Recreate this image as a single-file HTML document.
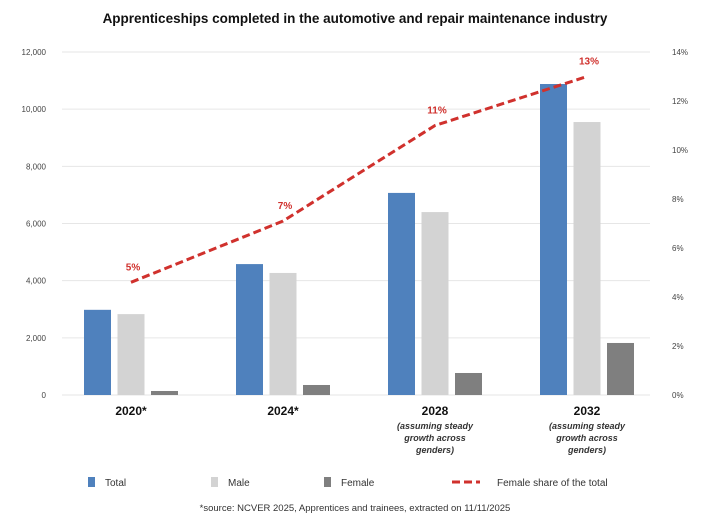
<!DOCTYPE html>
<html><head><meta charset="utf-8"><style>
body{margin:0;background:#fff;font-family:"Liberation Sans",sans-serif}
svg text{font-family:"Liberation Sans",sans-serif}
</style></head><body>
<svg id="c" width="709" height="515" xmlns="http://www.w3.org/2000/svg">
<text x="355" y="23" text-anchor="middle" font-size="13.5" font-weight="bold" fill="#111">Apprenticeships completed in the automotive and repair maintenance industry</text>
<g id="grid"></g><g id="bars"></g><g id="line"></g><g id="axes"></g>
<g font-size="10" fill="#333">
<rect x="88" y="477" width="7" height="10" fill="#4f81bd"/>
<text x="105" y="486">Total</text>
<rect x="211" y="477" width="7" height="10" fill="#d3d3d3"/>
<text x="228" y="486">Male</text>
<rect x="324" y="477" width="7" height="10" fill="#7f7f7f"/>
<text x="341" y="486">Female</text>
<line x1="452" y1="482" x2="480" y2="482" stroke="#d0312d" stroke-width="3" stroke-dasharray="8,4"/>
<text x="497" y="486">Female share of the total</text>
</g>
<text x="355" y="511" text-anchor="middle" font-size="9.5" fill="#333">*source: NCVER 2025, Apprentices and trainees, extracted on 11/11/2025</text>
</svg>
<script>
const categories=["2020*","2024*","2028","2032"];
const subLabels=[[],[],["(assuming steady","growth across","genders)"],["(assuming steady","growth across","genders)"]];
const total=[2980,4580,7070,10880];
const male=[2830,4270,6400,9550];
const female=[140,350,770,1820];
const share=[4.6,7.1,11.0,13.0];
const shareLabels=["5%","7%","11%","13%"];
const leftTicks=[0,2000,4000,6000,8000,10000,12000];
const rightTicks=[0,2,4,6,8,10,12,14];
const NS="http://www.w3.org/2000/svg";
const x0=55,step=152,yb=395,yt=52;
const y=v=>yb-(v/12000)*(yb-yt);
const y2=v=>yb-(v/14)*(yb-yt);
const cx=i=>x0+step*(i+0.5);
function mk(p,t,a){const e=document.createElementNS(NS,t);for(const k in a)e.setAttribute(k,a[k]);document.getElementById(p).appendChild(e);return e;}
leftTicks.forEach(v=>{
 const l=mk('grid','line',{x1:62,x2:650,y1:y(v),y2:y(v),stroke:'#e6e6e6'});
 
 
 const t=mk('axes','text',{x:46,y:y(v)+3,'text-anchor':'end','font-size':8,fill:'#444'});
 t.textContent=v.toLocaleString('en-US');
 
 
});
rightTicks.forEach(v=>{
 const t=mk('axes','text',{x:672,y:y2(v)+3,'font-size':8,fill:'#444'});
 t.textContent=v+'%';
 
 
});
const series=[[total,'#4f81bd','total'],[male,'#d3d3d3','male'],[female,'#7f7f7f','female']];
categories.forEach((c,i)=>{
 series.forEach((s,j)=>{
  const bx=cx(i)-47+j*33.5;
  const r=mk('bars','rect',{x:bx,y:y(s[0][i]),width:27,height:yb-y(s[0][i]),fill:s[1]});
  
  
 });
 const t=mk('axes','text',{x:cx(i),y:415,'text-anchor':'middle','font-size':12,'font-weight':'bold',fill:'#111'});
 t.textContent=c;
 
 
 subLabels[i].forEach((s,k)=>{
  const u=mk('axes','text',{x:cx(i),y:429+k*12,'text-anchor':'middle','font-size':9,'font-style':'italic','font-weight':'bold',fill:'#333'});
  u.textContent=s;
  
  
 });
});
const pts=share.map((v,i)=>cx(i)+','+y2(v)).join(' ');
const pl=mk('line','polyline',{points:pts,fill:'none',stroke:'#d0312d','stroke-width':3,'stroke-dasharray':'8,4'});


share.forEach((v,i)=>{
 const t=mk('line','text',{x:cx(i)+2,y:y2(v)-12,'text-anchor':'middle','font-size':10,'font-weight':'bold',fill:'#d0312d'});
 t.textContent=shareLabels[i];
 
 
});
</script>
</body></html>
